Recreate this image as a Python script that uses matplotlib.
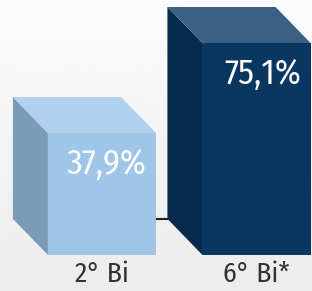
import numpy as np
import matplotlib.pyplot as plt
from matplotlib.patches import Polygon

categories = ['2° Bi', '6° Bi*']
values = [37.9, 75.1]
value_labels = ['37,9%', '75,1%']
front_colors = ['#9fc5e8', '#0a3761']
side_colors = ['#7b9bb7', '#052a4b']
top_colors = ['#b1d0ed', '#3c6084']

plt.rcParams['font.family'] = ['Fira Sans Condensed', 'DejaVu Sans']

base = -12.5          # front bottom of the boxes
width = 0.70
dx, dy = -0.2265, 14.9  # depth offset of the back face

fig = plt.figure(figsize=(3.12, 2.91), dpi=100)

# faint background
bg = fig.add_axes([0, 0, 1, 1])
grad = np.linspace(0.985, 0.925, 100).reshape(-1, 1)
bg.imshow(grad, cmap='gray', vmin=0, vmax=1, aspect='auto', extent=[0, 1, 0, 1])
bg.axis('off')

ax = fig.add_axes([0, 0, 1, 1])
ax.patch.set_alpha(0)
ax.set_xlim(-0.66, 1.359)
ax.set_ylim(-27.4, 92.9)
ax.axis('off')

# floor line at the back plane
ax.plot([width / 2, 1 - width / 2 + dx], [base + dy, base + dy], color='#222222', lw=1.5, zorder=1)

for i, v in enumerate(values):
    x0, x1 = i - width / 2, i + width / 2
    side = Polygon([(x0, base), (x0, v), (x0 + dx, v + dy), (x0 + dx, base + dy)],
                   closed=True, facecolor=side_colors[i], edgecolor='none', zorder=2)
    top = Polygon([(x0, v), (x1, v), (x1 + dx, v + dy), (x0 + dx, v + dy)],
                  closed=True, facecolor=top_colors[i], edgecolor='none', zorder=2)
    ax.add_patch(side)
    ax.add_patch(top)
    ax.bar(i, v - base, bottom=base, width=width, color=front_colors[i], zorder=3)
    ax.text(x1 - 0.06, v - 6.0, value_labels[i], ha='right', va='top',
            color='white', fontsize=25, zorder=4)
    ax.text(i, -20.5, categories[i], ha='center', va='center',
            color='#333333', fontsize=20, zorder=4)

fig.savefig('out.png', dpi=100)
